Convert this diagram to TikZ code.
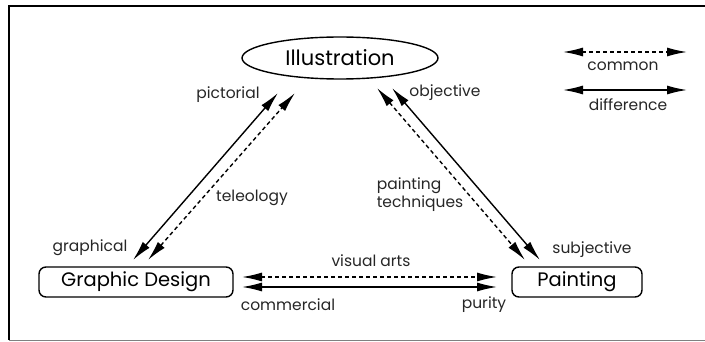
\documentclass[tikz,border=0pt]{standalone}
\usepackage{fontspec}
\setmainfont{Poppins}
\usetikzlibrary{positioning,arrows.meta,shapes.geometric}

\begin{document}
\begin{tikzpicture}[
    x=1pt, y=-1pt,
    field/.style={
      draw,
      line width=1.4pt,
      rounded corners=7pt,
      minimum height=30pt,
      font=\fontsize{19.5}{22}\selectfont
    },
    diff/.style={
      {Latex[length=20pt,width=9pt]}-{Latex[length=20pt,width=9pt]},
      line width=1.4pt
    },
    same/.style={
      diff,
      dash pattern=on 4pt off 3pt
    },
    lbl/.style={
      font=\fontsize{15.5}{18}\selectfont,
      text=black!85
    }
  ]
    \useasboundingbox (0,0) rectangle (705,342);
    % frame
    \draw[line width=2pt] (9,340) -- (9,6) -- (706,6);
    \draw[gray, line width=0.8pt] (9,340) -- (706,340);

    \node[ellipse, draw, line width=1.4pt, minimum width=196pt, minimum height=42pt,
          font=\fontsize{21}{24}\selectfont] (ill) at (340,58) {Illustration};
    \node[field, minimum width=194pt] (gd) at (136,282) {Graphic Design};
    \node[field, minimum width=130pt] (pt) at (577,282) {Painting};

    % arrow ends
    \coordinate (gd-s) at (133,260);  \coordinate (ill-s) at (278,93);
    \coordinate (gd-c) at (148,260);  \coordinate (ill-c) at (295,93);
    \coordinate (pt-c) at (525,260);  \coordinate (ill-d) at (377,88);
    \coordinate (pt-s) at (540,260);  \coordinate (ill-e) at (392,88);
    \coordinate (gd-h) at (242,277);  \coordinate (pt-h) at (497,277);
    \coordinate (gd-k) at (242,287);  \coordinate (pt-k) at (497,287);

    \draw[diff] (gd-s) -- (ill-s);
    \draw[same] (gd-c) -- (ill-c);
    \draw[same] (ill-d) -- (pt-c);
    \draw[diff] (ill-e) -- (pt-s);
    \draw[same] (gd-h) -- (pt-h);
    \draw[diff] (gd-k) -- (pt-k);

    % legend
    \coordinate (lg-a) at (563,52);  \coordinate (lg-b) at (687,52);
    \coordinate (lg-c) at (563,90);  \coordinate (lg-d) at (687,90);
    \draw[same] (lg-a) -- (lg-b);
    \draw[diff] (lg-c) -- (lg-d);
    \node[lbl] (common) at (623,66) {common};
    \node[lbl] (difference) at (628,105) {difference};

    % labels
    \node[lbl] (pictorial) at (228,95) {pictorial};
    \node[lbl] (objective) at (445,93) {objective};
    \node[lbl] (teleology) at (252,198) {teleology};
    \node[lbl] (graphical) at (90,248) {graphical};
    \node[lbl] (visual) at (371,261) {visual arts};
    \node[lbl] (commercial) at (288,305) {commercial};
    \node[lbl] (purity) at (484,305) {purity};
    \node[lbl] (subjective) at (592,250) {subjective};
    \node[lbl, align=left] (techniques) at (420,195) {painting\\techniques};
\end{tikzpicture}
\end{document}
